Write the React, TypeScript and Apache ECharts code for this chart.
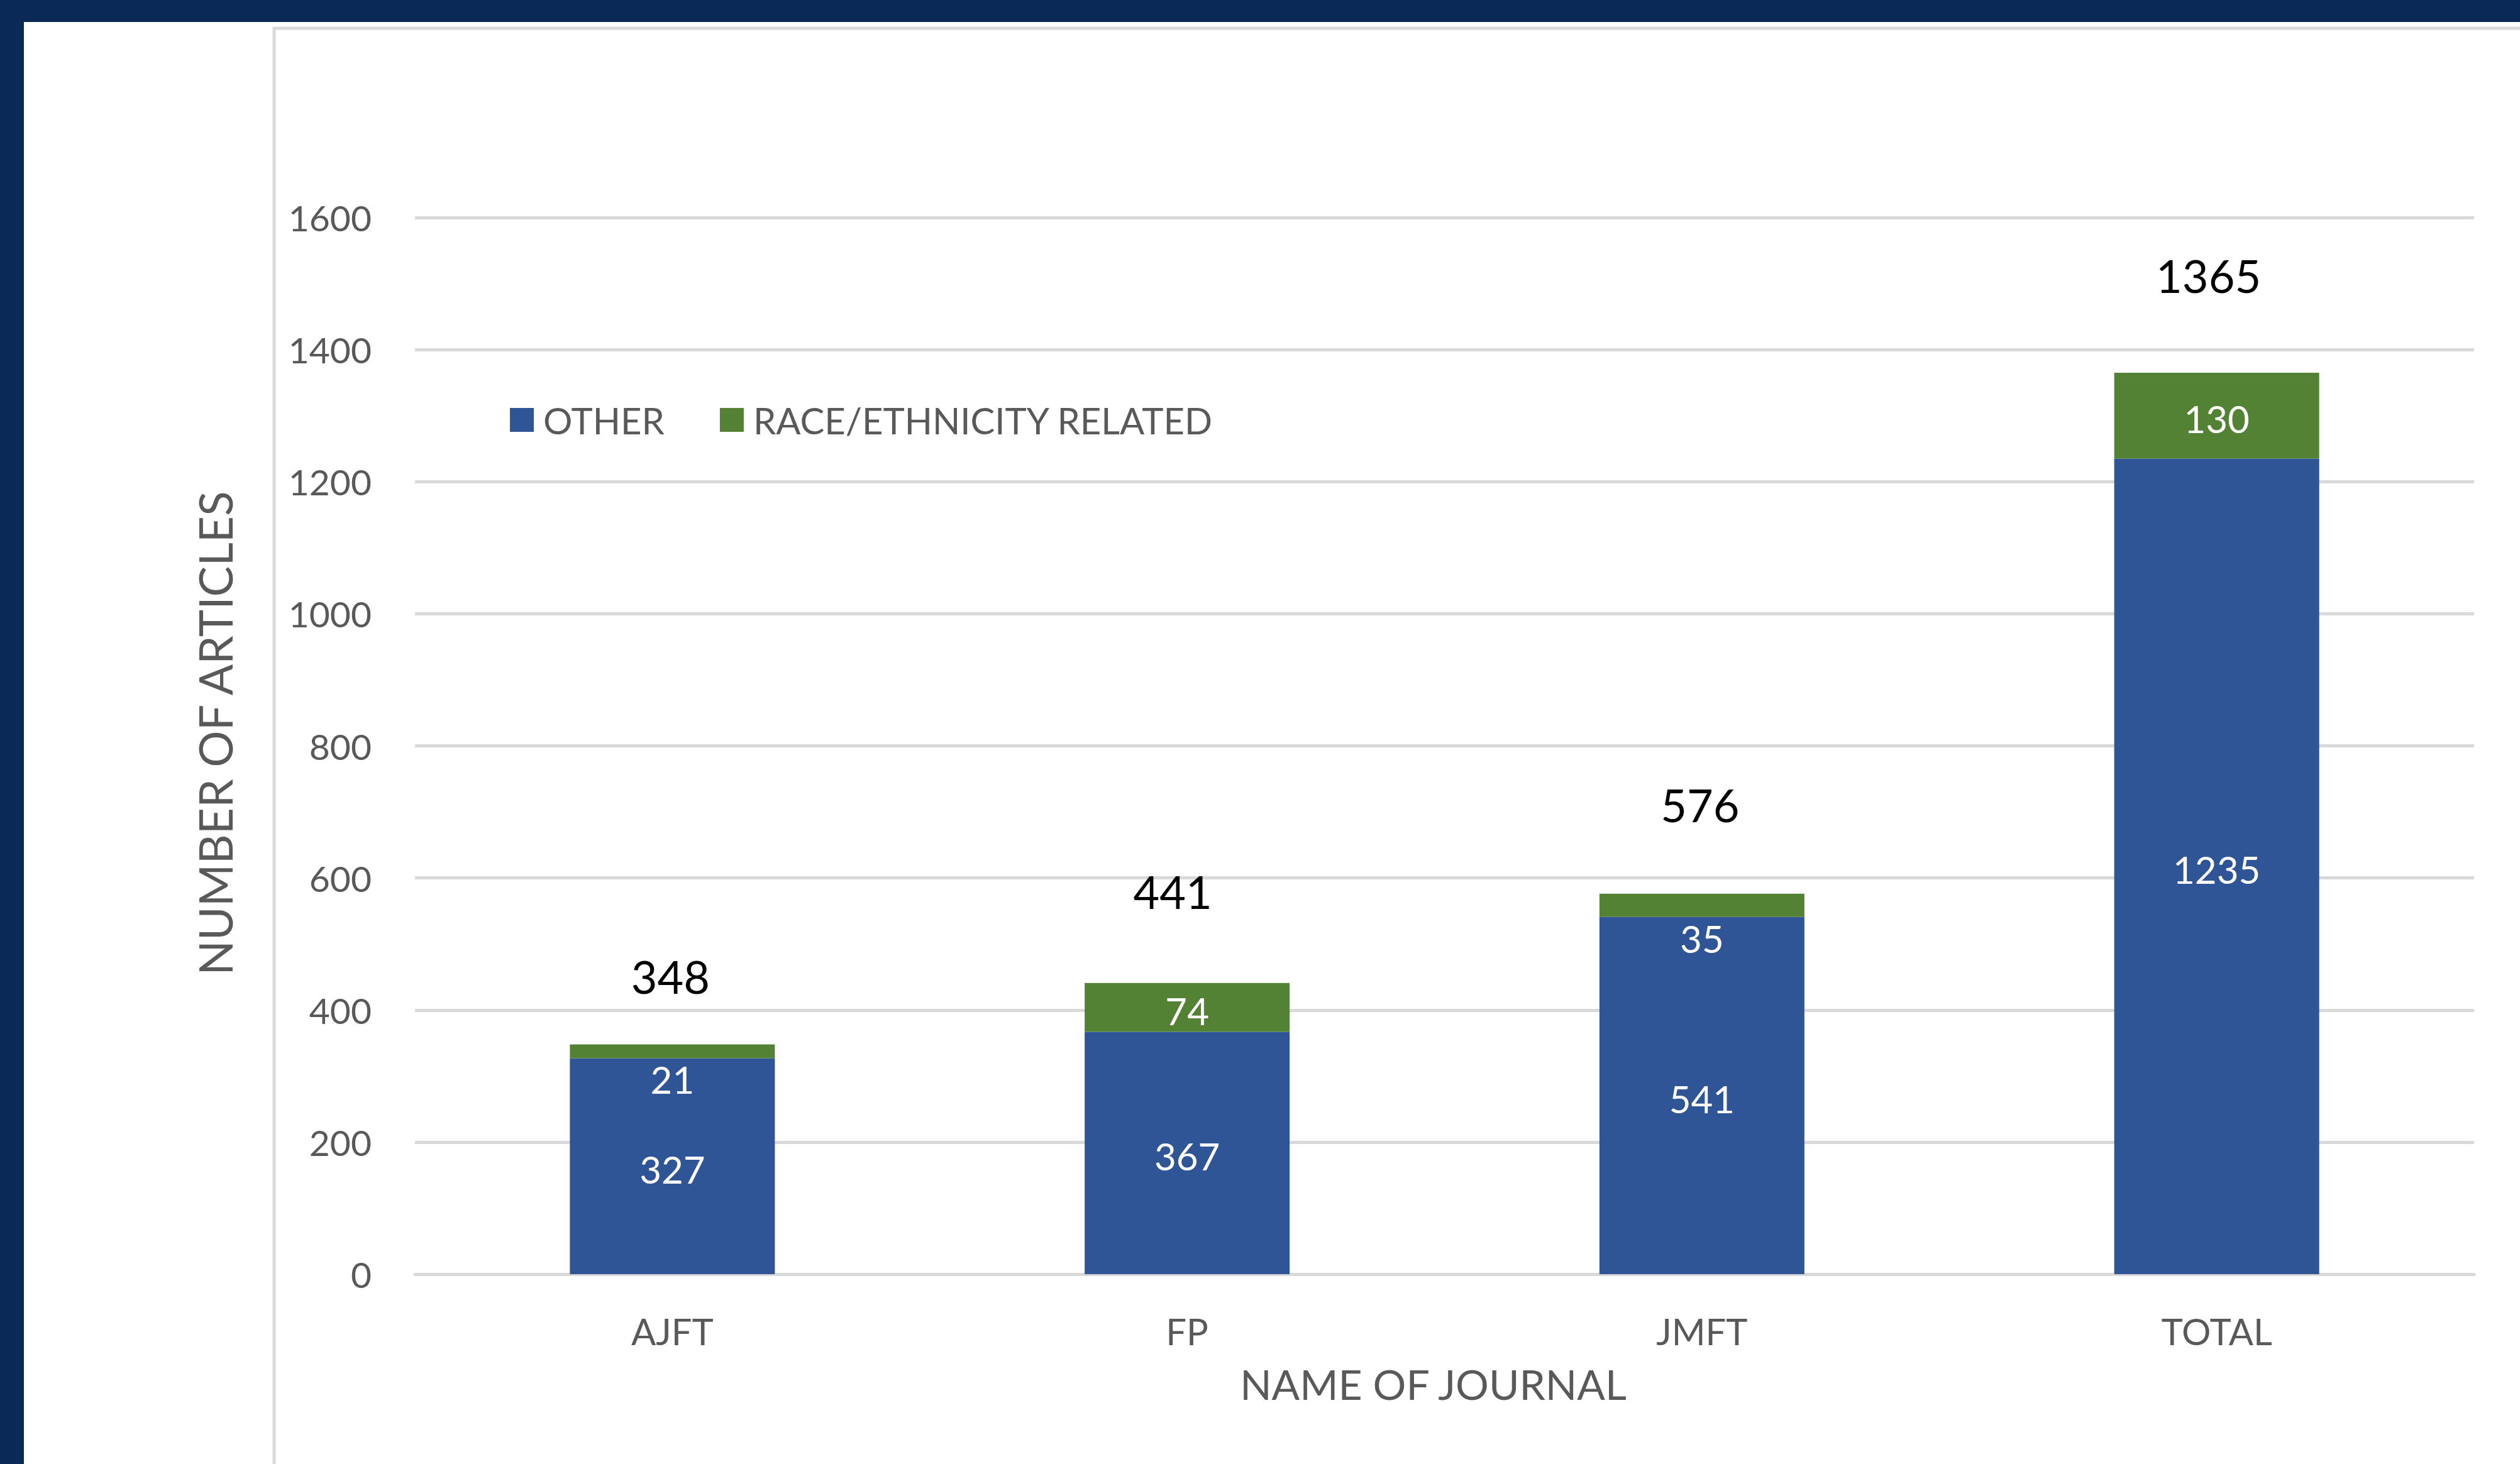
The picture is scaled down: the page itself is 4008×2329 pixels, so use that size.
import React, { useEffect, useRef } from 'react';
import * as echarts from 'echarts';

const categories = ['AJFT', 'FP', 'JMFT', 'TOTAL'];
const otherValues = [327, 367, 541, 1235];
const raceValues = [21, 74, 35, 130];
const totalValues = [348, 441, 576, 1365];
const seriesNames = ['OTHER', 'RACE/ETHNICITY RELATED'];

// label styling (not data)
const raceLabelPlacement = ['bottom', 'inside', 'bottom', 'inside'];
const totalLabelLift = [72, 110, 106, 119];
const totalLabelShiftX = [-3, -23, -3, -13];

const FONT = 'Lato, "Open Sans", sans-serif';
const AXIS_GRAY = '#595959';
const BLUE = '#2f5597';
const GREEN = '#548235';
const GRID_GRAY = '#d9d9d9';

export default function App() {
  const ref = useRef<HTMLDivElement>(null);
  useEffect(() => {
    document.body.style.margin = '0';
    document.body.style.overflow = 'hidden';
    const chart = echarts.init(ref.current!, null, { renderer: 'svg' });
    const option: any = {
      animation: false,
      backgroundColor: '#ffffff',
      textStyle: { fontFamily: FONT },
      graphic: [
        { type: 'rect', z: -10, shape: { x: 0, y: 0, width: 4008, height: 35 }, style: { fill: '#0a2a55' } },
        { type: 'rect', z: -10, shape: { x: 0, y: 0, width: 38, height: 2329 }, style: { fill: '#0a2a55' } },
        { type: 'rect', z: -10, shape: { x: 436, y: 45, width: 3800, height: 2400 }, style: { fill: 'none', stroke: GRID_GRAY, lineWidth: 5 } },
      ],
      grid: { left: 660, right: 73, top: 346, bottom: 302, containLabel: false },
      legend: {
        data: seriesNames,
        left: 806,
        top: 634,
        icon: 'rect',
        itemWidth: 38,
        itemHeight: 38,
        itemGap: 88,
        textStyle: { fontFamily: FONT, fontSize: 58, color: AXIS_GRAY, padding: [0, 0, 0, 10] },
      },
      xAxis: {
        type: 'category',
        data: categories,
        axisLine: { show: true, lineStyle: { color: GRID_GRAY, width: 5 } },
        axisTick: { show: false },
        axisLabel: { fontFamily: FONT, fontSize: 58, color: AXIS_GRAY, margin: 61 },
        name: 'NAME OF JOURNAL',
        nameLocation: 'middle',
        nameGap: 141,
        nameTextStyle: { fontFamily: FONT, fontSize: 66, color: AXIS_GRAY, padding: [0, 36, 0, 0] },
      },
      yAxis: {
        type: 'value',
        min: 0,
        max: 1600,
        interval: 200,
        axisLine: { show: false },
        axisTick: { show: false },
        axisLabel: { fontFamily: FONT, fontSize: 57, color: AXIS_GRAY, margin: 69, formatter: (v: number) => String(v) },
        splitLine: { show: true, lineStyle: { color: GRID_GRAY, width: 5 } },
        name: 'NUMBER OF ARTICLES',
        nameLocation: 'middle',
        nameRotate: 90,
        nameGap: 282,
        nameTextStyle: { fontFamily: FONT, fontSize: 73, color: AXIS_GRAY, padding: [0, 0, 0, 40] },
      },
      series: [
        {
          name: seriesNames[0],
          type: 'bar',
          stack: 'articles',
          barWidth: 326,
          itemStyle: { color: BLUE },
          label: { show: true, position: 'inside', offset: [0, 5], color: '#ffffff', fontFamily: FONT, fontSize: 60 },
          data: otherValues,
        },
        {
          name: seriesNames[1],
          type: 'bar',
          stack: 'articles',
          barWidth: 326,
          itemStyle: { color: GREEN },
          label: { show: true, color: '#ffffff', fontFamily: FONT, fontSize: 60 },
          data: raceValues.map((v, i) => ({
            value: v,
            label: raceLabelPlacement[i] === 'inside'
              ? { position: 'inside', offset: [0, 5] }
              : { position: 'bottom', distance: 4 },
          })),
        },
        {
          name: 'TOTAL_LABEL',
          type: 'bar',
          barWidth: 326,
          barGap: '-100%',
          silent: true,
          itemStyle: { color: 'rgba(0,0,0,0)' },
          label: { show: true, position: 'top', color: '#000000', fontFamily: FONT, fontSize: 72 },
          data: totalValues.map((v, i) => ({
            value: v,
            label: { distance: totalLabelLift[i], offset: [totalLabelShiftX[i], 0] },
          })),
          z: 5,
        },
      ],
    };
    chart.setOption(option);
    return () => chart.dispose();
  }, []);
  return <div ref={ref} style={{ width: 4008, height: 2329, background: '#ffffff' }} />;
}
